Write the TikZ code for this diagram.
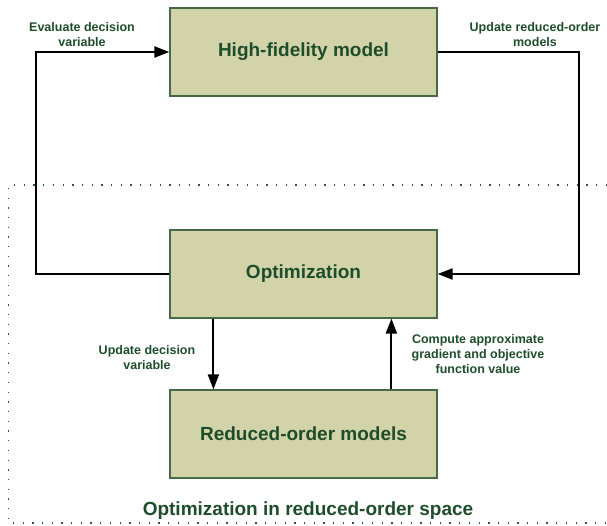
\documentclass[tikz,border=0pt]{standalone}
\usepackage{fontspec}
\setmainfont{Liberation Sans}
\usetikzlibrary{arrows.meta}
\definecolor{boxfill}{RGB}{211,211,170}
\definecolor{boxdraw}{RGB}{70,105,70}
\definecolor{txtgreen}{RGB}{30,77,43}
\definecolor{dotcol}{RGB}{50,80,70}
\begin{document}
\begin{tikzpicture}[x=1pt,y=-1pt,
 block/.style={draw=boxdraw, fill=boxfill, line width=1.2pt, minimum width=267pt, minimum height=88pt, inner sep=0pt, font=\bfseries\fontsize{19}{22}\selectfont, text=txtgreen},
 lbl/.style={font=\bfseries\fontsize{12.5}{15}\selectfont, text=txtgreen, align=center},
 conn/.style={line width=2pt, -{Triangle[length=15pt,width=11pt]}},
 dotline/.style={line width=1.3pt, dash pattern=on 1.3pt off 8.4pt, dotcol}
]
\useasboundingbox (0,0) rectangle (607,526);
\draw[dotline] (607,185) -- (8.5,185) -- (8.5,523) -- (607,523);
\node[block] (hf) at (303.5,52) {High-fidelity model};
\node[block] (opt) at (303.5,274) {Optimization};
\node[block] (rom) at (303.5,434) {Reduced-order models};
\coordinate (ltop) at (36,52);
\coordinate (lbot) at (36,274);
\coordinate (rtop) at (579,52);
\coordinate (rbot) at (579,274);
\draw[conn] (opt.west) -- (lbot) -- (ltop) -- (hf.west);
\draw[conn] (hf.east) -- (rtop) -- (rbot) -- (opt.east);
\draw[conn] ([xshift=44pt]opt.south west) -- ([xshift=44pt]rom.north west);
\draw[conn] ([xshift=222pt]rom.north west) -- ([xshift=222pt]opt.south west);
\node[lbl] (l1) at (82,35) {Evaluate decision\\variable};
\node[lbl] (l2) at (535,35) {Update reduced-order\\models};
\node[lbl] (l3) at (147,358) {Update decision\\variable};
\node[lbl] (l4) at (478,354) {Compute approximate\\gradient and objective\\function value};
\node[font=\bfseries\fontsize{19}{22}\selectfont, text=txtgreen] (title) at (308,511) {Optimization in reduced-order space};
\end{tikzpicture}
\end{document}
